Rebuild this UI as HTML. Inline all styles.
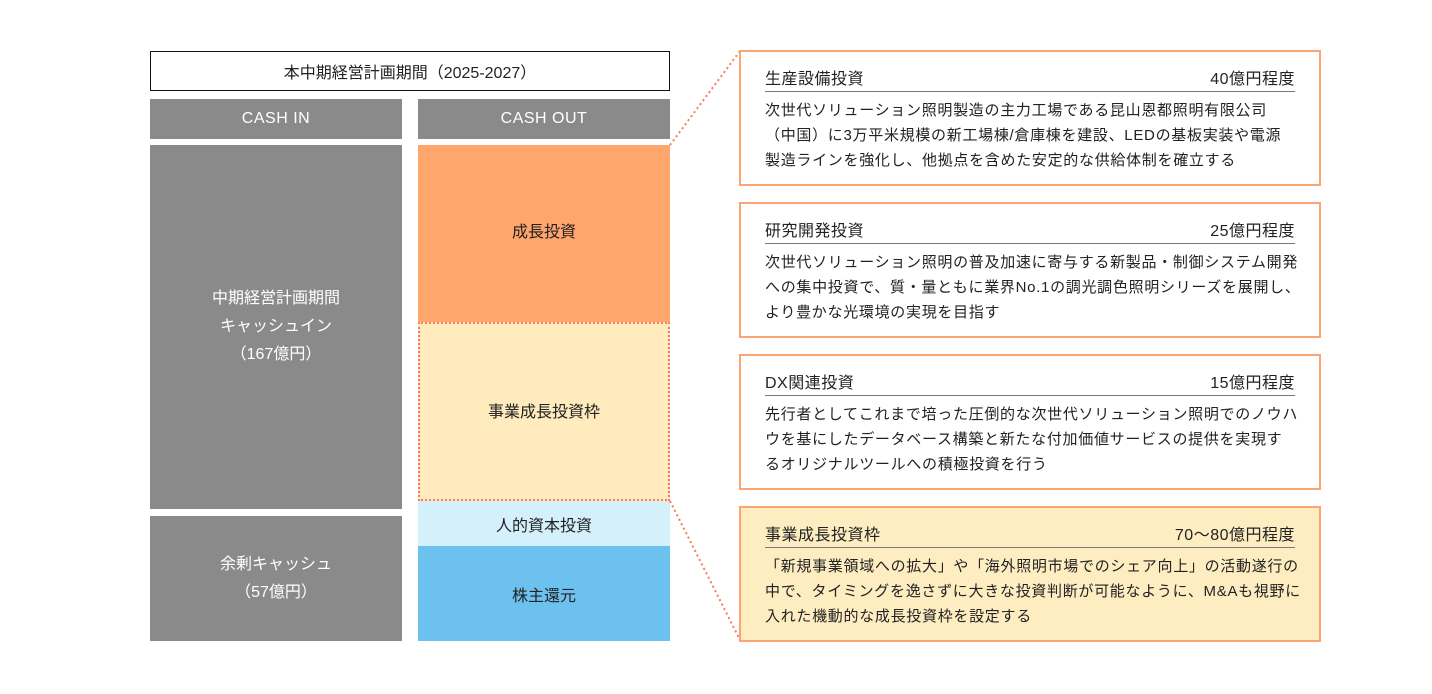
<!DOCTYPE html>
<html><head><meta charset="utf-8"><style>
*{margin:0;padding:0;box-sizing:border-box}
body{width:1432px;height:694px;background:#fff;position:relative;font-family:"Liberation Sans","Noto Sans CJK JP",sans-serif;color:#222;overflow:hidden}
.a{position:absolute}
.c{display:flex;align-items:center;justify-content:center;text-align:center}
.g{background:#8a8a8a;color:#fff}
.box{position:absolute;left:739px;width:582px;height:136px;border:2px solid #fba574;background:#fff;padding:0 24px}
.h{position:absolute;left:24px;right:24px;top:13px;height:27px;border-bottom:1px solid #777;font-size:16px;display:flex;justify-content:space-between;letter-spacing:0.5px}
.b{position:absolute;left:24px;top:46px;font-size:15px;line-height:25px;letter-spacing:0.7px;white-space:nowrap}
</style></head><body>
<div class="a c" style="left:150px;top:51px;width:520px;height:40px;border:1px solid #111;font-size:16px">本中期経営計画期間（2025-2027）</div>
<div class="a c g" style="left:150px;top:99px;width:252px;height:40px;font-size:16px;letter-spacing:0.5px">CASH IN</div>
<div class="a c g" style="left:418px;top:99px;width:252px;height:40px;font-size:16px;letter-spacing:0.5px">CASH OUT</div>
<div class="a c g" style="left:150px;top:145px;width:252px;height:364px;font-size:16px;line-height:28px">中期経営計画期間<br>キャッシュイン<br>（167億円）</div>
<div class="a c g" style="left:150px;top:516px;width:252px;height:125px;font-size:16px;line-height:28px">余剰キャッシュ<br>（57億円）</div>
<div class="a c" style="left:418px;top:145px;width:252px;height:178px;background:#ffa66c;font-size:16px;padding-bottom:8px">成長投資</div>
<div class="a c" style="left:418px;top:322px;width:252px;height:179px;background:#ffebbd;border:2px dotted #f97a5c;font-size:16px;padding-bottom:4px">事業成長投資枠</div>
<div class="a c" style="left:418px;top:501px;width:252px;height:45px;background:#d4f0fb;font-size:16px">人的資本投資</div>
<div class="a c" style="left:418px;top:546px;width:252px;height:95px;background:#6cc1ef;font-size:16px">株主還元</div>
<svg class="a" style="left:0;top:0" width="1432" height="694"><g stroke="#f97a5c" stroke-width="2" stroke-dasharray="2,3"><line x1="670" y1="145" x2="740" y2="51"/><line x1="670" y1="501" x2="740" y2="640"/></g></svg>
<div class="box" style="top:50px"><div class="h"><span>生産設備投資</span><span>40億円程度</span></div><div class="b">次世代ソリューション照明製造の主力工場である昆山恩都照明有限公司<br>（中国）に3万平米規模の新工場棟/倉庫棟を建設、LEDの基板実装や電源<br>製造ラインを強化し、他拠点を含めた安定的な供給体制を確立する</div></div>
<div class="box" style="top:202px"><div class="h"><span>研究開発投資</span><span>25億円程度</span></div><div class="b">次世代ソリューション照明の普及加速に寄与する新製品・制御システム開発<br>への集中投資で、質・量ともに業界No.1の調光調色照明シリーズを展開し、<br>より豊かな光環境の実現を目指す</div></div>
<div class="box" style="top:354px"><div class="h"><span>DX関連投資</span><span>15億円程度</span></div><div class="b">先行者としてこれまで培った圧倒的な次世代ソリューション照明でのノウハ<br>ウを基にしたデータベース構築と新たな付加価値サービスの提供を実現す<br>るオリジナルツールへの積極投資を行う</div></div>
<div class="box" style="top:506px;background:#ffedc2"><div class="h"><span>事業成長投資枠</span><span>70〜80億円程度</span></div><div class="b">「新規事業領域への拡大」や「海外照明市場でのシェア向上」の活動遂行の<br>中で、タイミングを逸さずに大きな投資判断が可能なように、M&amp;Aも視野に<br>入れた機動的な成長投資枠を設定する</div></div>
</body></html>
